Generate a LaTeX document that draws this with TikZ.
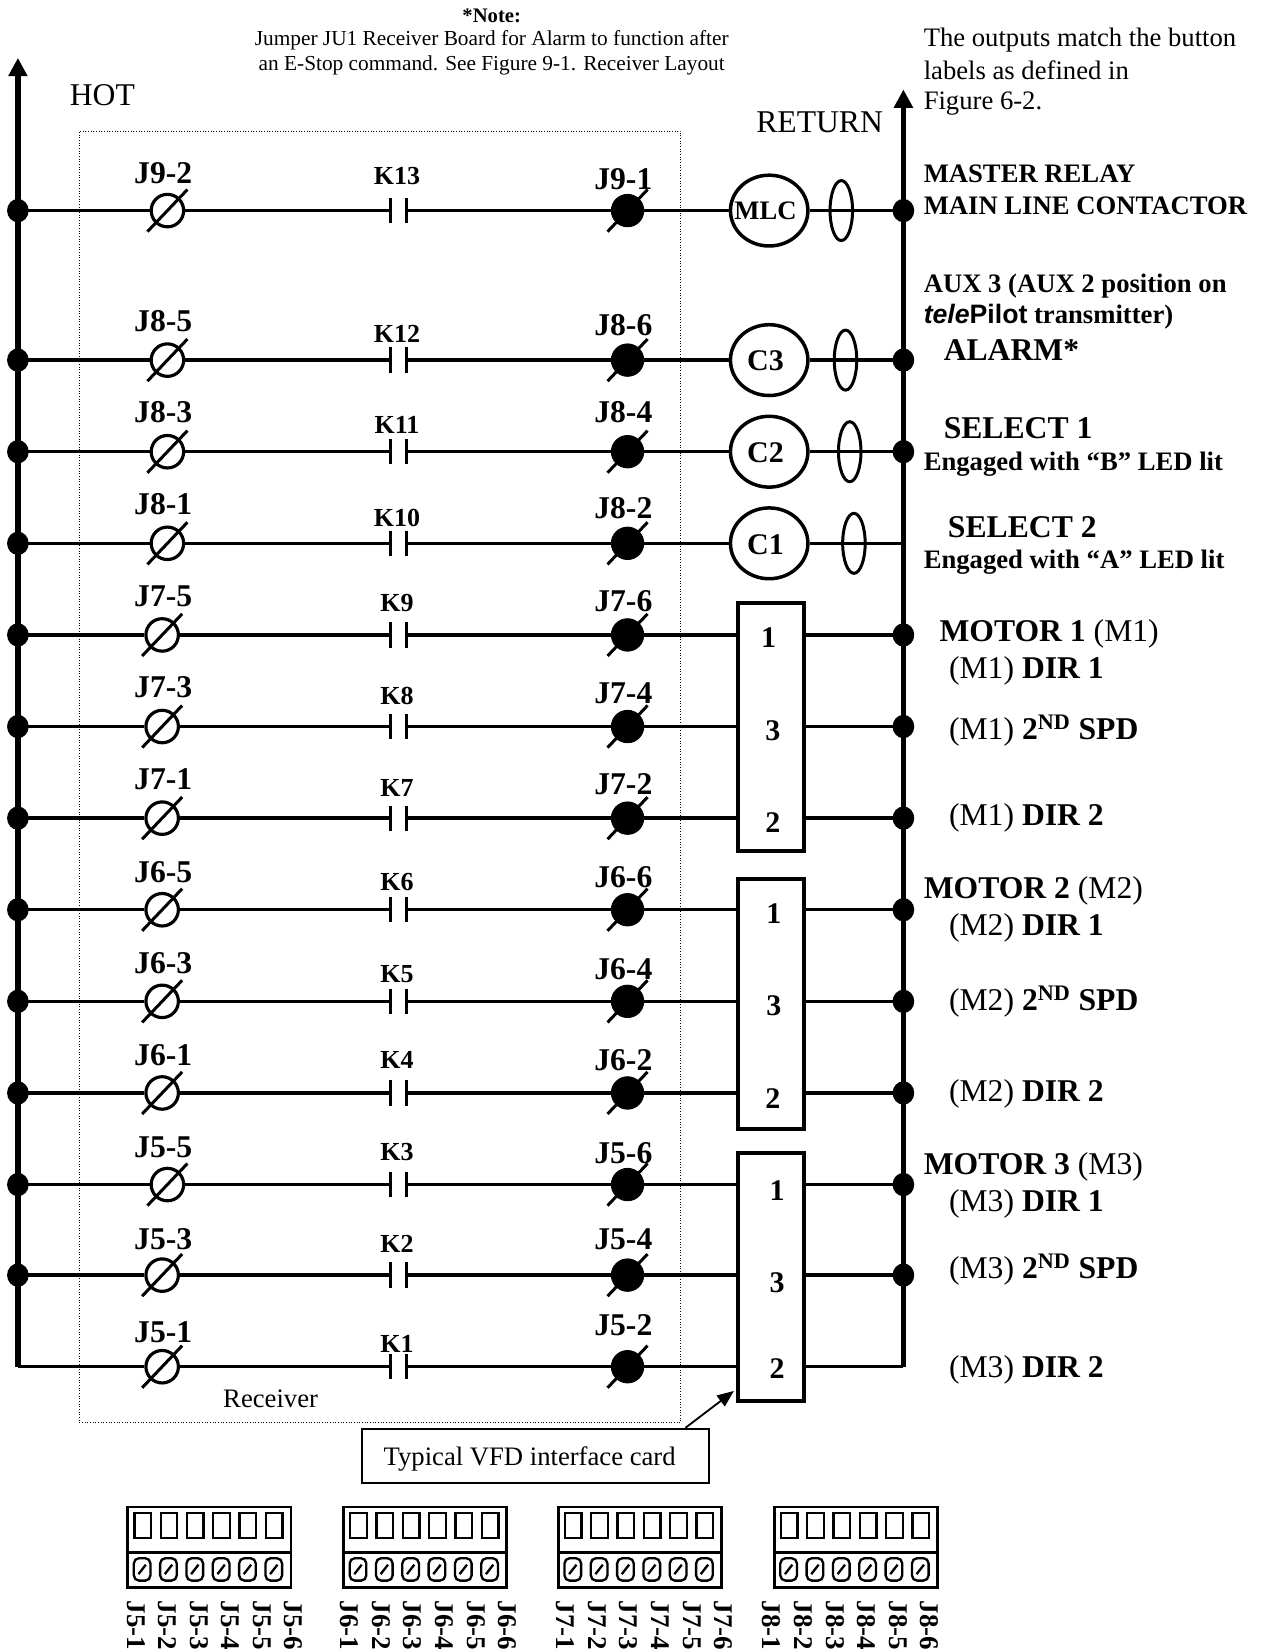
\documentclass[tikz,border=0pt]{standalone}
\usepackage{fontspec}
\setmainfont{Liberation Serif}
\newfontfamily\arialf{Liberation Sans}
\usetikzlibrary{arrows.meta,shapes.geometric}
\newcommand{\fsz}[1]{\fontsize{#1}{#1}\selectfont}
\tikzset{
  wire/.style={line width=2.1pt},
  bus/.style={line width=3.2pt},
  hollow/.style={circle,draw,line width=1.9pt,fill=white,minimum size=19.5pt,inner sep=0pt},
  solid/.style={circle,draw,fill=black,line width=0.5pt,minimum size=19.5pt,inner sep=0pt},
  jdot/.style={ellipse,fill=black,minimum width=13pt,minimum height=14pt,inner sep=0pt},
  slash/.style={line width=1.8pt},
  cbar/.style={line width=2.1pt},
  coil/.style={ellipse,draw,line width=2.1pt,fill=white,minimum width=46.5pt,minimum height=42.5pt,inner sep=0pt},
  coiltxt/.style={font=\bfseries\fsz{18},inner sep=0pt},
  oval/.style={ellipse,draw,line width=1.8pt,minimum width=13.5pt,minimum height=36pt,inner sep=0pt},
  vfd/.style={draw,line width=2.4pt,fill=white,minimum width=39.5pt,inner sep=0pt},
  jl/.style={font=\bfseries\fsz{19},inner sep=0pt},
  kl/.style={font=\bfseries\fsz{15.6},inner sep=0pt},
  num/.style={font=\bfseries\fsz{18},inner sep=0pt},
  rtxt/.style={anchor=west,inner sep=0pt,font=\fsz{16},align=left},
  big/.style={anchor=west,inner sep=0pt,font=\fsz{19}},
  pinl/.style={font=\bfseries\fsz{16.2},inner sep=0pt,rotate=-90,anchor=west},
  blk/.style={line width=1.6pt},
}
\begin{document}
\begin{tikzpicture}[x=0.632pt,y=-0.632pt]
\useasboundingbox (0,0) rectangle (1201,1568);
% receiver outline
\node[draw,densely dotted,line width=0.6pt,minimum width=361pt,minimum height=775pt,inner sep=0pt,anchor=north west] (rcv) at (75,124) {};
% buses
\coordinate (hotTop) at (17,55);
\coordinate (hotEnd) at (17,1298);
\coordinate (retTop) at (858,85);
\coordinate (retEnd) at (858,1298);
\draw[bus,-{Triangle[length=11pt,width=11pt]}] (hotEnd) -- (hotTop);
\draw[bus,-{Triangle[length=11pt,width=11pt]}] (retEnd) -- (retTop);
% rows
\foreach \n/\y/\sx/\jx/\jy/\jn/\ry/\rn/\kn/\ky in {
 1/200/159/155/164/J9-2/170/J9-1/K13/167,
 2/342/159/155/305/J8-5/309/J8-6/K12/317,
 3/429/159/155/391/J8-3/391/J8-4/K11/404,
 4/516/159/155/479/J8-1/483/J8-2/K10/492,
 5/603/154/155/566/J7-5/571/J7-6/K9/573,
 6/690/154/155/653/J7-3/658/J7-4/K8/661,
 7/777/154/155/740/J7-1/745/J7-2/K7/748,
 8/864/154/155/828/J6-5/833/J6-6/K6/838,
 9/951/154/155/915/J6-3/920/J6-4/K5/925,
 10/1038/154/155/1002/J6-1/1007/J6-2/K4/1007,
 11/1125/159/155/1090/J5-5/1095/J5-6/K3/1094,
 12/1211/154/155/1177/J5-3/1177/J5-4/K2/1181,
 13/1298/154/155/1265/J5-1/1259/J5-2/K1/1276}{
  \coordinate (L\n) at (17,\y);
  \coordinate (Ca\n) at (371,\y);
  \coordinate (Cb\n) at (386,\y);
  \node[hollow] (H\n) at (\sx,\y) {};
  \node[solid] (S\n) at (596,\y) {};
  \draw[wire] (L\n) -- (H\n);
  \draw[wire] (H\n) -- (Ca\n);
  \draw[wire] (Cb\n) -- (S\n);
  \draw[cbar] (371,\y-12) -- (371,\y+12);
  \draw[cbar] (386,\y-12) -- (386,\y+12);
  \draw[slash] (\sx-19,\y+20) -- (\sx+19,\y-20);
  \draw[slash] (596-19,\y+20) -- (596+19,\y-20);
  \node[jl] (JL\n) at (\jx,\jy) {\jn};
  \node[jl] (JR\n) at (592,\ry) {\rn};
  \node[kl] (KL\n) at (377,\ky) {\kn};
}
% left junctions
\foreach \n/\y in {1/200,2/342,3/429,4/516,5/603,6/690,7/777,8/864,9/951,10/1038,11/1125,12/1211}{
  \node[jdot] (LD\n) at (17,\y) {};
}
% right junctions and coil rows
\foreach \n/\y/\ox in {1/200/799,2/342/803,3/429/807,4/516/811}{
  \node[coil] (Coil\n) at (730.5,\y) {};
  \node[oval] (Oval\n) at (\ox,\y) {};
  \coordinate (RB\n) at (858,\y);
  \draw[wire] (S\n) -- (Coil\n);
  \draw[wire] (Coil\n) -- (RB\n);
}
\node[coiltxt,font=\bfseries\fsz{16}] (TMLC) at (727,200) {MLC};
\node[coiltxt] (TC3) at (727,343) {C3};
\node[coiltxt] (TC2) at (727,430) {C2};
\node[coiltxt] (TC1) at (727,517) {C1};
\foreach \n/\y in {1/200,2/342,3/429}{\node[jdot] (RD\n) at (858,\y) {};}
% VFD cards
\node[vfd,anchor=north west,minimum height=149pt] (VA) at (699,571) {};
\node[vfd,anchor=north west,minimum height=150pt] (VB) at (699,833) {};
\node[vfd,anchor=north west,minimum height=149pt] (VC) at (699,1093) {};
\foreach \n/\y in {5/603,6/690,7/777,8/864,9/951,10/1038,11/1125,12/1211,13/1298}{
  \coordinate (Bl\n) at (699,\y);
  \coordinate (Br\n) at (763,\y);
  \coordinate (Rb\n) at (858,\y);
  \draw[wire] (S\n) -- (Bl\n);
  \draw[wire] (Br\n) -- (Rb\n);
}
\foreach \n/\y in {5/603,6/690,7/777,8/864,9/951,10/1038,11/1125,12/1211}{\node[jdot] (RD\n) at (858,\y) {};}
\foreach \n/\x/\y/\t in {a/730/606/1,b/734/694/3,c/734/781/2,d/735/868/1,e/735/955/3,f/734/1043/2,g/738/1131/1,h/738/1218/3,i/738/1300/2}{
  \node[num] (N\n) at (\x,\y) {\t};
}
% top texts
\node[font=\bfseries\fsz{12.4},inner sep=0pt] (note) at (467,15) {*Note:};
\node[font=\fsz{12.8},inner sep=0pt] (note1) at (467,38) {Jumper JU1 Receiver Board for Alarm to function after};
\node[font=\fsz{12.8},inner sep=0pt] (note2) at (467,62) {an E-Stop command. See Figure 9-1. Receiver Layout};
\node[big] (hot) at (66,90) {HOT};
\node[big] (ret) at (718,116) {RETURN};
\node[rtxt] (o1) at (877,38.5) {The outputs match the button};
\node[rtxt] (o2) at (877,67) {labels as defined in};
\node[rtxt] (o3) at (877,98) {Figure 6-2.};
% right labels
\node[rtxt,font=\bfseries\fsz{16}] (r1) at (877,165) {MASTER RELAY};
\node[rtxt,font=\bfseries\fsz{16}] (r2) at (877,195) {MAIN LINE CONTACTOR};
\node[rtxt,font=\bfseries\fsz{16}] (r3) at (877,272) {AUX 3 (AUX 2 position on};
\node[rtxt,font=\bfseries\fsz{16}] (r4) at (877,301) {{\arialf\itshape tele}{\arialf Pilot} transmitter)};
\node[rtxt,font=\bfseries\fsz{19}] (r5) at (896,332) {ALARM*};
\node[rtxt,font=\bfseries\fsz{19}] (r6) at (896,407) {SELECT 1};
\node[rtxt,font=\bfseries\fsz{16}] (r7) at (877,441) {Engaged with “B” LED lit};
\node[rtxt,font=\bfseries\fsz{19}] (r8) at (900,501) {SELECT 2};
\node[rtxt,font=\bfseries\fsz{16}] (r9) at (877,534) {Engaged with “A” LED lit};
\node[big] (m1) at (892,602) {\textbf{MOTOR 1} (M1)};
\node[big] (m2) at (901,637) {(M1) \textbf{DIR 1}};
\node[big] (m3) at (901,694) {(M1) \textbf{2\textsuperscript{ND} SPD}};
\node[big] (m4) at (901,777) {(M1) \textbf{DIR 2}};
\node[big] (m5) at (877,846) {\textbf{MOTOR 2} (M2)};
\node[big] (m6) at (901,881) {(M2) \textbf{DIR 1}};
\node[big] (m7) at (901,951) {(M2) \textbf{2\textsuperscript{ND} SPD}};
\node[big] (m8) at (901,1039) {(M2) \textbf{DIR 2}};
\node[big] (m9) at (877,1108) {\textbf{MOTOR 3} (M3)};
\node[big] (m10) at (901,1143) {(M3) \textbf{DIR 1}};
\node[big] (m11) at (901,1206) {(M3) \textbf{2\textsuperscript{ND} SPD}};
\node[big] (m12) at (901,1301) {(M3) \textbf{DIR 2}};
\node[font=\fsz{16},inner sep=0pt] (rl) at (257,1328) {Receiver};
% callout
\node[draw,line width=1.1pt,fill=white,minimum width=208pt,minimum height=32.5pt,inner sep=0pt] (call) at (508.5,1383) {};
\node[font=\fsz{16},inner sep=0pt] (callT) at (503,1386) {Typical VFD interface card};
\coordinate (callA) at (651,1356);
\coordinate (callB) at (697,1321);
\draw[line width=1.1pt,-{Triangle[length=10pt,width=8pt]}] (callA) -- (callB);
% connector blocks
\foreach \b/\bx/\lb/\p in {5/120/129/J5,6/325/332/J6,7/529/537/J7,8/734/733/J8}{
  \begin{scope}[shift={(\bx,0)}]
    \node[draw,blk,anchor=north west,minimum width=98pt,minimum height=27pt,inner sep=0pt] (top\b) at (0,1430) {};
    \node[draw,blk,anchor=north west,minimum width=98pt,minimum height=21pt,inner sep=0pt] (bot\b) at (0,1473) {};
    \foreach \i in {0,...,5}{
      \node[draw,line width=1.4pt,minimum width=10pt,minimum height=15pt,inner sep=0pt] (w\b\i) at (15.5+25*\i,1449) {};
      \node[draw,line width=1.4pt,rounded corners=3.2pt,minimum width=10pt,minimum height=13.5pt,inner sep=0pt] (sc\b\i) at (15+25*\i,1490.5) {};
      \draw[line width=1.4pt] (15+25*\i-3.5,1490.5+4.5) -- (15+25*\i+3.5,1490.5-4.5);
    }
  \end{scope}
  \foreach \i [evaluate=\i as \xx using int(\lb+30*(\i-1))] in {1,...,6}{
    \node[pinl] (pin\b\i) at (\xx,1520) {\p-\i};
  }
}
\end{tikzpicture}
\end{document}
